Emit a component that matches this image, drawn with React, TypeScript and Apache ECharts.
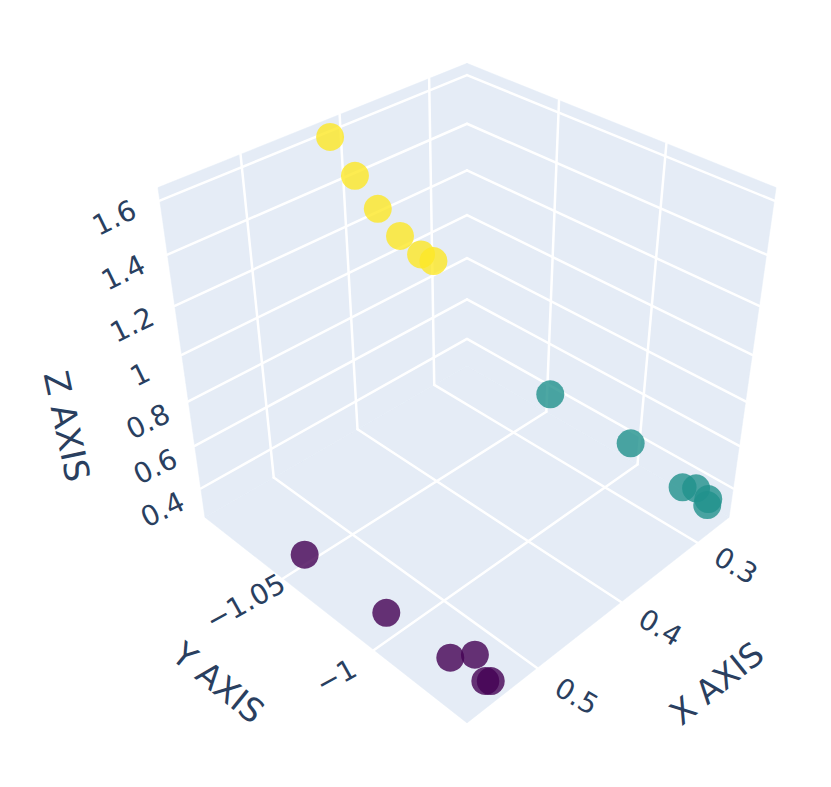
import React, { useEffect, useRef } from "react";
import * as echarts from "echarts";

const xRange = [0.2546, 0.5759];
const yRange = [-1.0978, -0.9544];
const zRange = [0.259, 1.647];

const xTicks = [0.3, 0.4, 0.5];
const yTicks = [-1.05, -1];
const zTicks = [0.4, 0.6, 0.8, 1, 1.2, 1.4, 1.6];
const xTickLabels = ["0.3", "0.4", "0.5"];
const yTickLabels = ["\u22121.05", "\u22121"];
const zTickLabels = ["0.4", "0.6", "0.8", "1", "1.2", "1.4", "1.6"];

const xPurple = [0.5553, 0.5525, 0.5501, 0.5347, 0.5479, 0.5451];
const yPurple = [-1.0479, -1.0048, -0.9739, -0.969, -0.9583, -0.957];
const zPurple = [0.3284, 0.3284, 0.3284, 0.3284, 0.3284, 0.3284];

const xTeal = [0.2642, 0.2598, 0.2673, 0.2601, 0.263, 0.264];
const yTeal = [-1.0445, -1.0026, -0.9734, -0.9693, -0.9625, -0.9621];
const zTeal = [0.3978, 0.3631, 0.3284, 0.3284, 0.2937, 0.3284];

const xYellow = [0.4214, 0.4414, 0.4545, 0.4609, 0.4592, 0.4593];
const yYellow = [-1.0922, -1.0689, -1.0509, -1.037, -1.0278, -1.0219];
const zYellow = [1.612, 1.5776, 1.543, 1.508, 1.4735, 1.4735];

const WIDTH = 831;
const HEIGHT = 787;
const DIST = 7.02;
const SCALE = 1408;
const CX = 467;
const CY = 366;
const INK = "#2a3f5f";
const FONT = "'DejaVu Sans', Verdana, sans-serif";

const norm = (v: number, r: number[]) => ((v - r[0]) / (r[1] - r[0])) * 2 - 1;

// perspective camera looking from (+x, +y, +z), on a cube of half-side 1
function cam(nx: number, ny: number, nz: number): [number, number] {
  const right = (-nx + ny) / Math.SQRT2;
  const up = (-nx - ny + 2 * nz) / Math.sqrt(6);
  const depth = (nx + ny + nz) / Math.sqrt(3);
  const w = DIST - depth;
  return [CX + (SCALE * right) / w, CY - (SCALE * up) / w];
}

const project = (x: number, y: number, z: number) =>
  cam(norm(x, xRange), norm(y, yRange), norm(z, zRange));

const points = (xs: number[], ys: number[], zs: number[]) =>
  xs.map((x, i) => project(x, ys[i], zs[i]));

const walls = [
  [cam(-1, -1, -1), cam(1, -1, -1), cam(1, 1, -1), cam(-1, 1, -1)],
  [cam(-1, -1, -1), cam(1, -1, -1), cam(1, -1, 1), cam(-1, -1, 1)],
  [cam(-1, -1, -1), cam(-1, 1, -1), cam(-1, 1, 1), cam(-1, -1, 1)],
];

function gridSegments(): number[][] {
  const out: number[][] = [];
  const seg = (a: [number, number], b: [number, number]) => out.push([a[0], a[1], b[0], b[1]]);
  xTicks.forEach((t) => {
    const n = norm(t, xRange);
    seg(cam(n, -1, -1), cam(n, 1, -1));
    seg(cam(n, -1, -1), cam(n, -1, 1));
  });
  yTicks.forEach((t) => {
    const n = norm(t, yRange);
    seg(cam(1, n, -1), cam(-1, n, -1));
    seg(cam(-1, n, -1), cam(-1, n, 1));
  });
  zTicks.forEach((t) => {
    const n = norm(t, zRange);
    seg(cam(1, -1, n), cam(-1, -1, n));
    seg(cam(-1, -1, n), cam(-1, 1, n));
  });
  return out;
}

type Label = { p: [number, number]; text: string; size: number; rot: number };

function labels(): Label[] {
  const out: Label[] = [];
  const tickSize = 28;
  xTicks.forEach((t, i) =>
    out.push({ p: cam(norm(t, xRange), 1.25, -1.0), text: xTickLabels[i], size: tickSize, rot: -30 })
  );
  yTicks.forEach((t, i) =>
    out.push({ p: cam(1.24, norm(t, yRange), -1.0), text: yTickLabels[i], size: tickSize, rot: 29 })
  );
  zTicks.forEach((t, i) => {
    const n = norm(t, zRange);
    out.push({ p: cam(1.157, -1.157, n - (0.122 - 0.034 * n)), text: zTickLabels[i], size: tickSize, rot: 26 });
  });
  out.push({ p: cam(0, 1.664, -1), text: "X AXIS", size: 33, rot: 39 });
  out.push({ p: cam(1.659, 0, -1), text: "Y AXIS", size: 33, rot: -39 });
  out.push({ p: cam(1.455, -1.455, -0.38), text: "Z AXIS", size: 34, rot: -78 });
  return out;
}

const scatter = (name: string, color: string, data: [number, number][]) => ({
  name,
  type: "scatter",
  data,
  symbol: "circle",
  symbolSize: 28,
  itemStyle: { color, opacity: 0.8 },
  silent: true,
  z: 5,
});

export default function App() {
  const ref = useRef<HTMLDivElement>(null);
  useEffect(() => {
    document.body.style.margin = "0";
    document.body.style.background = "#fff";
    const chart = echarts.init(ref.current!, undefined, { renderer: "svg" });
    const segs = gridSegments();
    const labs = labels();
    chart.setOption({
      animation: false,
      backgroundColor: "#fff",
      grid: { left: 0, right: 0, top: 0, bottom: 0 },
      tooltip: { show: false },
      xAxis: { type: "value", min: 0, max: WIDTH, show: false },
      yAxis: { type: "value", min: 0, max: HEIGHT, inverse: true, show: false },
      series: [
        {
          type: "custom",
          silent: true,
          clip: false,
          z: 1,
          data: walls.map((w) => w.flat()),
          encode: { x: [0, 2, 4, 6], y: [1, 3, 5, 7] },
          renderItem: (_p: any, api: any) => ({
            type: "polygon",
            shape: {
              points: [0, 1, 2, 3].map((k) => api.coord([api.value(2 * k), api.value(2 * k + 1)])),
            },
            style: { fill: "#E5ECF6", stroke: "#E5ECF6", lineWidth: 0.5 },
          }),
        },
        {
          type: "custom",
          silent: true,
          clip: false,
          z: 2,
          data: segs,
          encode: { x: [0, 2], y: [1, 3] },
          renderItem: (_p: any, api: any) => {
            const a = api.coord([api.value(0), api.value(1)]);
            const b = api.coord([api.value(2), api.value(3)]);
            return {
              type: "line",
              shape: { x1: a[0], y1: a[1], x2: b[0], y2: b[1] },
              style: { stroke: "#ffffff", lineWidth: 2.5, lineCap: "round" },
            };
          },
        },
        scatter("Cluster 0", "#440154", points(xPurple, yPurple, zPurple)),
        scatter("Cluster 1", "#21918c", points(xTeal, yTeal, zTeal)),
        scatter("Cluster 2", "#fde725", points(xYellow, yYellow, zYellow)),
        {
          type: "custom",
          silent: true,
          clip: false,
          z: 6,
          data: labs.map((l) => l.p),
          encode: { x: 0, y: 1 },
          renderItem: (p: any, api: any) => {
            const l = labs[p.dataIndex];
            const c = api.coord([api.value(0), api.value(1)]);
            return {
              type: "text",
              x: c[0],
              y: c[1],
              rotation: (l.rot * Math.PI) / 180,
              style: {
                text: l.text,
                x: 0,
                y: 0,
                align: "center",
                verticalAlign: "middle",
                fontSize: l.size,
                fontFamily: FONT,
                fill: INK,
              },
            };
          },
        },
      ],
    });
    return () => chart.dispose();
  }, []);
  return <div ref={ref} style={{ width: WIDTH, height: HEIGHT }} />;
}
